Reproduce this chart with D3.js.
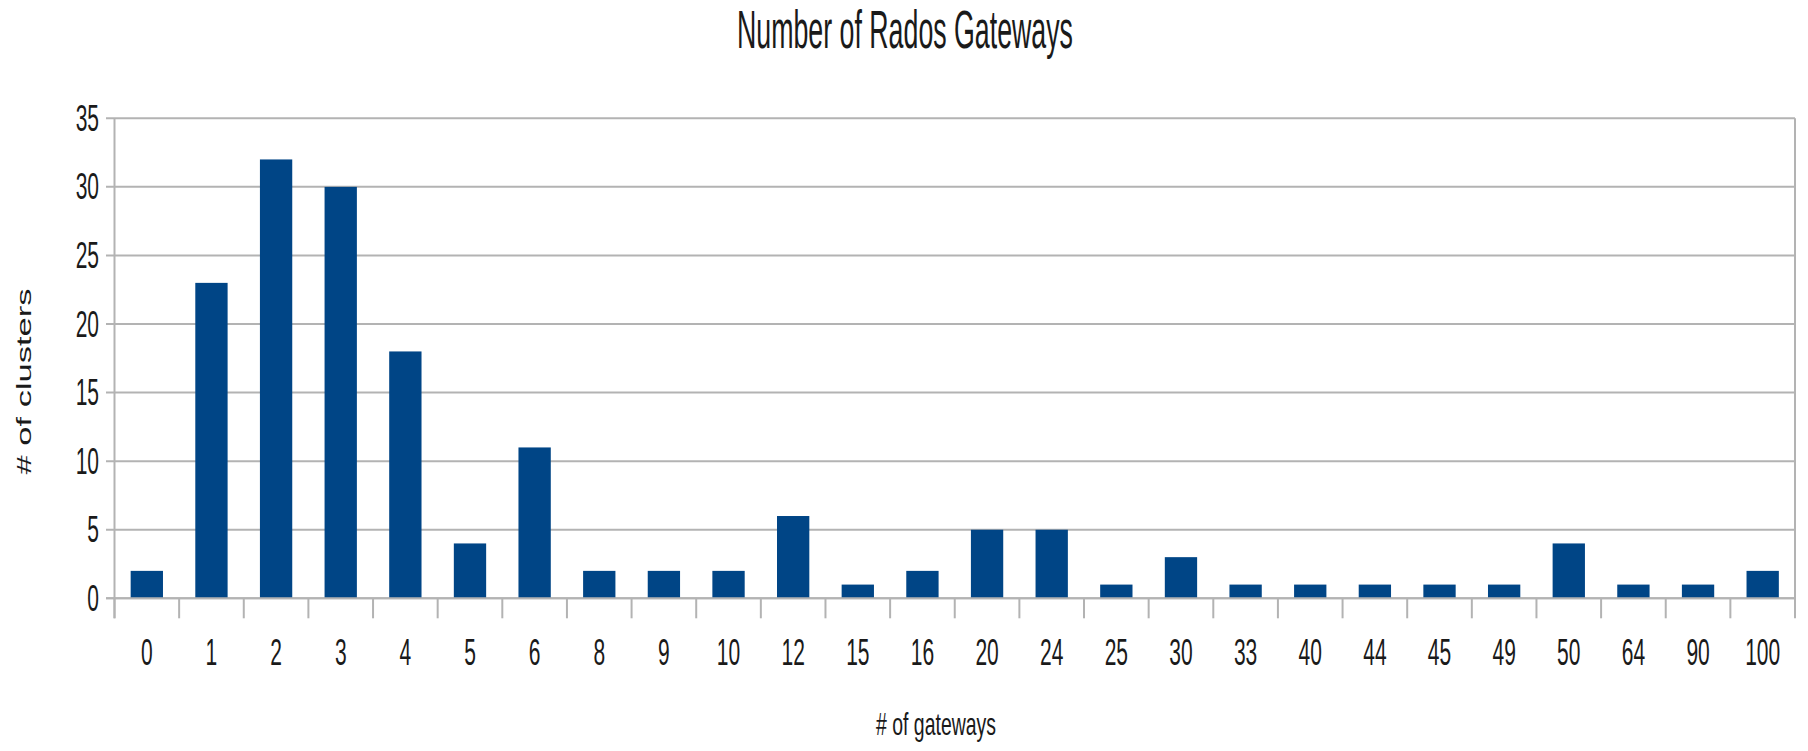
<!DOCTYPE html>
<html>
<head>
<meta charset="utf-8">
<script src="https://cdn.jsdelivr.net/npm/d3@7"></script>
<style>
  html, body { margin: 0; padding: 0; background: #fff; }
  svg { display: block; }
  text { font-family: "Liberation Sans", Arial, sans-serif; fill: #1a1a1a; }
</style>
</head>
<body>
<svg id="chart" width="1808" height="751"></svg>
<script>
const categories = ["0","1","2","3","4","5","6","8","9","10","12","15","16","20","24","25","30","33","40","44","45","49","50","64","90","100"];
const clusterCounts = [2,23,32,30,18,4,11,2,2,2,6,1,2,5,5,1,3,1,1,1,1,1,4,1,1,2];
const yTickValues = [0,5,10,15,20,25,30,35];
const chartTitle = "Number of Rados Gateways";
const xAxisTitle = "# of gateways";
const yAxisTitle = "# of clusters";

const svg = d3.select("#chart");
const W = 1808, H = 751;
const plot = { left: 114.5, right: 1795, top: 118.3, bottom: 598.3 };
const SX = 0.56;           // horizontal squeeze of glyphs
const gridColor = "#b3b3b3";
const barColor = "#004586";

const x = d3.scaleBand()
  .domain(categories)
  .range([plot.left, plot.right])
  .paddingInner(0.5)
  .paddingOuter(0.25);

const y = d3.scaleLinear()
  .domain([0, 35])
  .range([plot.bottom, plot.top]);

// horizontal gridlines + left ticks
const gGrid = svg.append("g");
gGrid.selectAll("line.grid")
  .data(yTickValues)
  .join("line")
  .attr("x1", plot.left - 8.5)
  .attr("x2", plot.right)
  .attr("y1", d => y(d))
  .attr("y2", d => y(d))
  .attr("stroke", gridColor)
  .attr("stroke-width", 2);

// left axis line and right border
svg.append("line")
  .attr("x1", plot.left).attr("x2", plot.left)
  .attr("y1", y(35)).attr("y2", plot.bottom + 20)
  .attr("stroke", gridColor).attr("stroke-width", 2);
svg.append("line")
  .attr("x1", plot.right).attr("x2", plot.right)
  .attr("y1", y(35)).attr("y2", plot.bottom + 20)
  .attr("stroke", gridColor).attr("stroke-width", 2);

// category boundary ticks on the x axis
const step = x.step();
const boundaries = categories.map(c => x(c) + x.bandwidth() / 2 - step / 2);
gGrid.selectAll("line.xtick")
  .data(boundaries)
  .join("line")
  .attr("x1", d => d).attr("x2", d => d)
  .attr("y1", plot.bottom).attr("y2", plot.bottom + 20)
  .attr("stroke", gridColor).attr("stroke-width", 2);

// bars
svg.append("g")
  .selectAll("rect")
  .data(categories.map((c, i) => ({ c, v: clusterCounts[i] })))
  .join("rect")
  .attr("x", d => x(d.c))
  .attr("width", x.bandwidth())
  .attr("y", d => y(d.v))
  .attr("height", d => y(0) - y(d.v))
  .attr("fill", barColor);

// redraw baseline on top
svg.append("line")
  .attr("x1", plot.left - 8.5).attr("x2", plot.right)
  .attr("y1", y(0)).attr("y2", y(0))
  .attr("stroke", gridColor).attr("stroke-width", 2);

// y tick labels
svg.append("g")
  .selectAll("text")
  .data(yTickValues)
  .join("text")
  .attr("transform", d => `translate(99,${y(d) + 12.5}) scale(${SX},1)`)
  .attr("text-anchor", "end")
  .attr("font-size", 37.5)
  .text(d => d);

// x tick labels
svg.append("g")
  .selectAll("text")
  .data(categories)
  .join("text")
  .attr("transform", d => `translate(${x(d) + x.bandwidth() / 2},665) scale(${SX},1)`)
  .attr("text-anchor", "middle")
  .attr("font-size", 37.5)
  .text(d => d);

// title
svg.append("text")
  .attr("x", 905).attr("y", 48.3)
  .attr("text-anchor", "middle")
  .attr("font-size", 53)
  .attr("textLength", 336)
  .attr("lengthAdjust", "spacingAndGlyphs")
  .text(chartTitle);

// x axis title
svg.append("text")
  .attr("x", 936).attr("y", 735)
  .attr("text-anchor", "middle")
  .attr("font-size", 32)
  .attr("textLength", 120)
  .attr("lengthAdjust", "spacingAndGlyphs")
  .text(xAxisTitle);

// y axis title (rotated; squeezed across its reading direction)
svg.append("text")
  .attr("transform", `translate(31,381.5) rotate(-90) scale(1,${SX})`)
  .attr("text-anchor", "middle")
  .attr("font-size", 34.5)
  .text(yAxisTitle);
</script>
</body>
</html>
